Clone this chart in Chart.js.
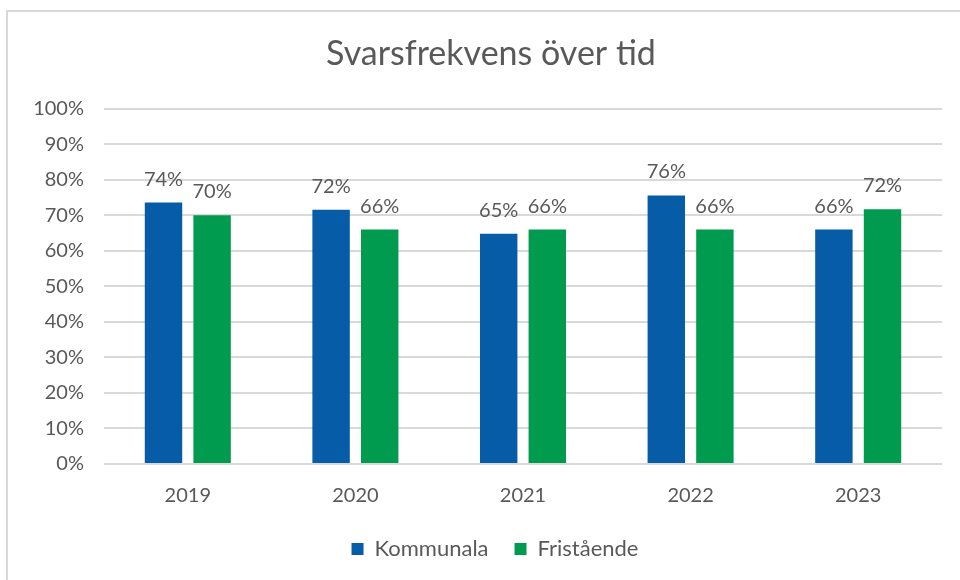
<!DOCTYPE html>
<html>
<head>
<meta charset="utf-8">
<script src="https://cdn.jsdelivr.net/npm/chart.js@4.4.1/dist/chart.umd.min.js"></script>
<style>
  body { margin: 0; background: #fff; }
  #wrap { position: relative; width: 960px; height: 580px; }
  #frame { position: absolute; left: 6px; top: 10px; right: -10px; bottom: -10px; border: 2px solid #d9d9d9; }
  canvas { position: absolute; left: 0; top: 0; }
</style>
</head>
<body>
<div id="wrap">
  <div id="frame"></div>
  <canvas id="myChart" width="960" height="580"></canvas>
</div>
<script>
// values (percent)
const categories = ['2019', '2020', '2021', '2022', '2023'];
const kommunala = [73.6, 71.6, 64.8, 75.6, 66.0];
const fristaende = [70.0, 66.0, 66.0, 66.0, 71.7];
const yTickValues = [0, 10, 20, 30, 40, 50, 60, 70, 80, 90, 100];

const textColor = '#595959';
const fontFamily = 'Lato, "Open Sans", sans-serif';

// draws the percentage above each bar
const barLabels = {
    id: 'barLabels',
    afterDatasetsDraw(chart) {
        const ctx = chart.ctx;
        ctx.save();
        ctx.fillStyle = textColor;
        ctx.font = '20px ' + fontFamily;
        ctx.textAlign = 'center';
        ctx.textBaseline = 'alphabetic';
        chart.data.datasets.forEach((ds, i) => {
            chart.getDatasetMeta(i).data.forEach((bar, j) => {
                ctx.fillText(Math.round(ds.data[j]) + '%', bar.x, bar.y - 17);
            });
        });
        ctx.restore();
    }
};

// the original centres title and legend a bit right of the canvas middle
const centerShift = {
    id: 'centerShift',
    afterLayout(chart) {
        chart.titleBlock.left += 20;
        chart.titleBlock.right += 20;
        chart.legend.left += 24;
        chart.legend.right += 24;
    }
};

const ctx = document.getElementById('myChart').getContext('2d');
const myChart = new Chart(ctx, {
    type: 'bar',
    data: {
        labels: categories,
        datasets: [
            {
                label: 'Kommunala',
                data: kommunala,
                backgroundColor: '#075ca8'
            },
            {
                label: 'Fristående',
                data: fristaende,
                backgroundColor: '#009b4e'
            }
        ]
    },
    options: {
        responsive: false,
        animation: false,
        categoryPercentage: 0.58,
        barPercentage: 0.77,
        layout: {
            padding: { left: 0, right: 18, top: 0, bottom: 10 }
        },
        plugins: {
            title: {
                display: true,
                text: 'Svarsfrekvens över tid',
                color: textColor,
                font: { family: fontFamily, size: 34, weight: 'normal' },
                padding: { top: 34, bottom: 34 }
            },
            legend: {
                position: 'bottom',
                labels: {
                    color: textColor,
                    font: { family: fontFamily, size: 22 },
                    boxWidth: 12,
                    boxHeight: 12,
                    padding: 26
                }
            },
            tooltip: { enabled: false }
        },
        scales: {
            x: {
                grid: { display: false, drawTicks: false },
                border: { display: false },
                ticks: {
                    color: textColor,
                    font: { family: fontFamily, size: 20 },
                    padding: 20
                },
                afterFit(scale) { scale.height = 48; }
            },
            y: {
                min: 0,
                max: 100,
                afterBuildTicks(scale) {
                    scale.ticks = yTickValues.map(v => ({ value: v }));
                },
                grid: { color: '#d9d9d9', lineWidth: 2, drawTicks: false },
                border: { display: false },
                ticks: {
                    color: textColor,
                    font: { family: fontFamily, size: 20 },
                    padding: 20,
                    callback: v => v + '%'
                },
                afterFit(scale) { scale.width = 104; }
            }
        }
    },
    plugins: [barLabels, centerShift]
});
</script>
</body>
</html>
